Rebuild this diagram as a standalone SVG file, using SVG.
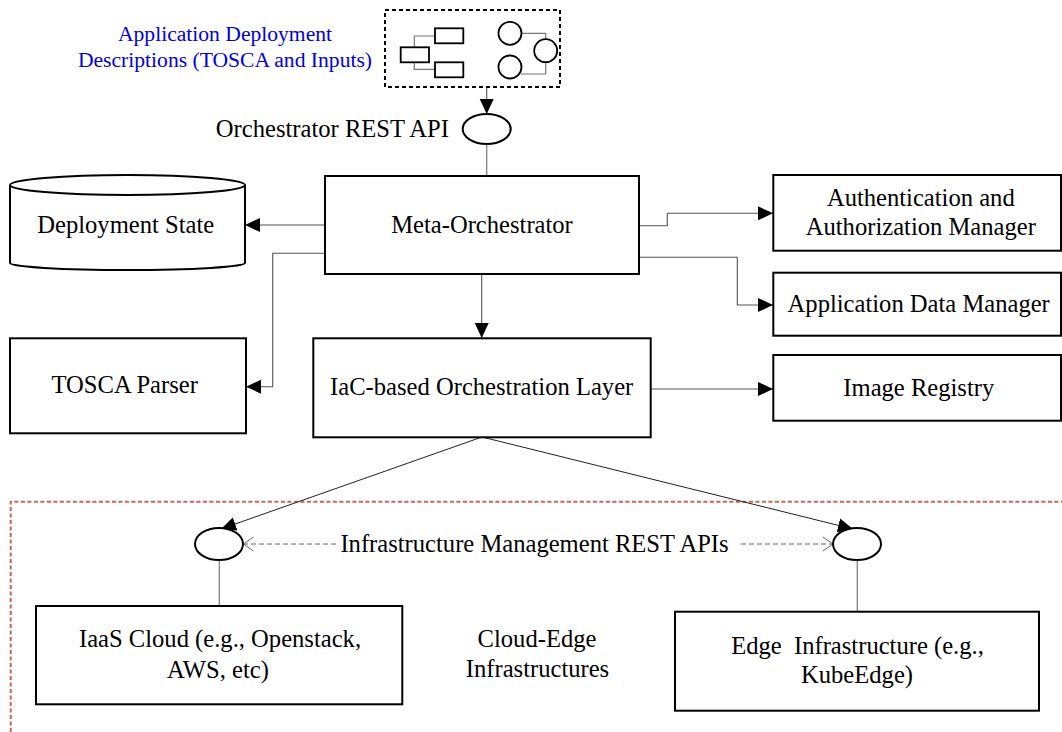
<svg xmlns="http://www.w3.org/2000/svg" width="1062" height="732" viewBox="0 0 1062 732">
  <style>
    .t { font-family: "Liberation Serif", "Times New Roman", serif; font-size: 24.6px; fill: #000; text-anchor: middle; }
    .blue { font-family: "Liberation Serif", "Times New Roman", serif; font-size: 21.6px; fill: #0000e0; text-anchor: middle; }
    .box { fill: #fff; stroke: #000; stroke-width: 2; }
    .icon { fill: #fff; stroke: #000; stroke-width: 1.8; }
    .thin { fill: none; stroke: #777; stroke-width: 1.2; }
    .conn { fill: none; stroke: #555; stroke-width: 1.1; }
    .dark { fill: none; stroke: #222; stroke-width: 1; }
    .dash { fill: none; stroke: #666; stroke-width: 1; stroke-dasharray: 5 3; }
    .api { fill: #fff; stroke: #000; stroke-width: 2; }
  </style>
  <defs>
    <marker id="arrow" markerUnits="userSpaceOnUse" markerWidth="16" markerHeight="16" viewBox="0 0 16 16" refX="15" refY="8" orient="auto">
      <path d="M0,1 L15,8 L0,15 Z" fill="#000"/>
    </marker>
    <marker id="open" markerUnits="userSpaceOnUse" markerWidth="12" markerHeight="16" viewBox="0 0 12 16" refX="11" refY="8" orient="auto">
      <path d="M1,1 L11,8 L1,15" fill="none" stroke="#666" stroke-width="1"/>
    </marker>
  </defs>

  <!-- cloud-edge region boundary -->
  <path d="M10.7,732 L10.7,501.7 L1062,501.7" fill="none" stroke="#d2605a" stroke-width="2" stroke-dasharray="4 2.5"/>

  <g id="connectors">
    <!-- deployment descriptions into the orchestrator API -->
    <line class="conn" x1="486.7" y1="87" x2="486.7" y2="114" marker-end="url(#arrow)"/>
    <line class="thin" x1="486.7" y1="144" x2="486.7" y2="176"/>
    <!-- meta-orchestrator fan-out -->
    <line class="conn" x1="325" y1="225" x2="245" y2="225" marker-end="url(#arrow)"/>
    <polyline class="conn" points="325,253.3 272.7,253.3 272.7,386.7 246,386.7" marker-end="url(#arrow)"/>
    <polyline class="conn" points="639,225.7 667.3,225.7 667.3,213.3 773,213.3" marker-end="url(#arrow)"/>
    <polyline class="conn" points="639,257.3 737.3,257.3 737.3,305 773,305" marker-end="url(#arrow)"/>
    <line class="conn" x1="481.7" y1="275" x2="481.7" y2="338" marker-end="url(#arrow)"/>
    <line class="conn" x1="651" y1="389" x2="773" y2="389" marker-end="url(#arrow)"/>
    <!-- orchestration layer to infrastructure APIs -->
    <line class="dark" x1="482" y1="437" x2="221" y2="529" marker-end="url(#arrow)"/>
    <line class="dark" x1="482" y1="437" x2="853" y2="529" marker-end="url(#arrow)"/>
    <line class="dash" x1="336" y1="544" x2="243.5" y2="544" marker-end="url(#open)"/>
    <line class="dash" x1="741" y1="544" x2="833" y2="544" marker-end="url(#open)"/>
    <line class="thin" x1="219.3" y1="560" x2="219.3" y2="606"/>
    <line class="thin" x1="857.3" y1="560" x2="857.3" y2="611.7"/>
  </g>

  <g id="deployment-descriptions">
    <text class="blue" x="225" y="40.7">Application Deployment</text>
    <text class="blue" x="225" y="66.7">Descriptions (TOSCA and Inputs)</text>
    <rect x="385" y="10" width="175" height="77" fill="#fff" stroke="#000" stroke-width="2" stroke-dasharray="4 3"/>
    <polyline class="thin" points="435,36 414.3,36 414.3,69.3 435,69.3"/>
    <rect class="icon" x="400.7" y="47.3" width="28.3" height="15"/>
    <rect class="icon" x="435" y="28.3" width="28.3" height="15"/>
    <rect class="icon" x="435" y="62.3" width="28.3" height="15"/>
    <polyline class="thin" points="521,33.3 545.7,33.3 545.7,40"/>
    <polyline class="thin" points="521,74 545.7,74 545.7,62"/>
    <circle class="icon" cx="510" cy="33.3" r="11.5"/>
    <circle class="icon" cx="510" cy="67" r="11.5"/>
    <circle class="icon" cx="545.7" cy="50.7" r="11.5"/>
  </g>

  <g id="orchestrator-api">
    <ellipse class="api" cx="486.7" cy="129" rx="24" ry="15"/>
    <text class="t" x="449" y="137" style="text-anchor:end">Orchestrator REST API</text>
  </g>

  <g id="meta-orchestrator">
    <rect class="box" x="325" y="176" width="314" height="98"/>
    <text class="t" x="482" y="232.7">Meta-Orchestrator</text>
  </g>

  <g id="deployment-state">
    <path d="M10,185 L10,263 A117.5,7 0 0 0 245,263 L245,185" fill="#fff" stroke="#000" stroke-width="2"/>
    <ellipse cx="127.5" cy="185" rx="117.5" ry="10" fill="#fff" stroke="#000" stroke-width="2"/>
    <text class="t" x="125.7" y="233.3">Deployment State</text>
  </g>

  <g id="tosca-parser">
    <rect class="box" x="10" y="338.3" width="236" height="95"/>
    <text class="t" x="124.7" y="392.7">TOSCA Parser</text>
  </g>

  <g id="iac-layer">
    <rect class="box" x="313.3" y="338.3" width="337.4" height="99"/>
    <text class="t" x="481.7" y="395">IaC-based Orchestration Layer</text>
  </g>

  <g id="auth-manager">
    <rect class="box" x="773.3" y="175" width="287.7" height="75.7"/>
    <text class="t" x="920.8" y="206.3">Authentication and</text>
    <text class="t" x="920.8" y="234.5">Authorization Manager</text>
  </g>

  <g id="app-data-manager">
    <rect class="box" x="773.3" y="272.7" width="287.7" height="63"/>
    <text class="t" x="918.7" y="311.7">Application Data Manager</text>
  </g>

  <g id="image-registry">
    <rect class="box" x="773.3" y="355" width="287.7" height="65.7"/>
    <text class="t" x="918.8" y="395.7">Image Registry</text>
  </g>

  <g id="infra-apis">
    <ellipse class="api" cx="219" cy="544" rx="24" ry="16"/>
    <ellipse class="api" cx="857" cy="544" rx="24" ry="16"/>
    <text class="t" x="534.5" y="551.7">Infrastructure Management REST APIs</text>
  </g>

  <g id="iaas-cloud">
    <rect class="box" x="36" y="606" width="366.3" height="98.3"/>
    <text class="t" x="220" y="646.7">IaaS Cloud (e.g., Openstack,</text>
    <text class="t" x="218" y="678.3">AWS, etc)</text>
  </g>

  <g id="cloud-edge-label">
    <text class="t" x="537" y="646.7">Cloud-Edge</text>
    <text class="t" x="537.5" y="676.7">Infrastructures</text>
  </g>

  <g id="edge-infrastructure">
    <rect class="box" x="675" y="611.7" width="364" height="99"/>
    <text class="t" x="857.5" y="654" xml:space="preserve">Edge  Infrastructure (e.g.,</text>
    <text class="t" x="857" y="683.3">KubeEdge)</text>
  </g>
</svg>
